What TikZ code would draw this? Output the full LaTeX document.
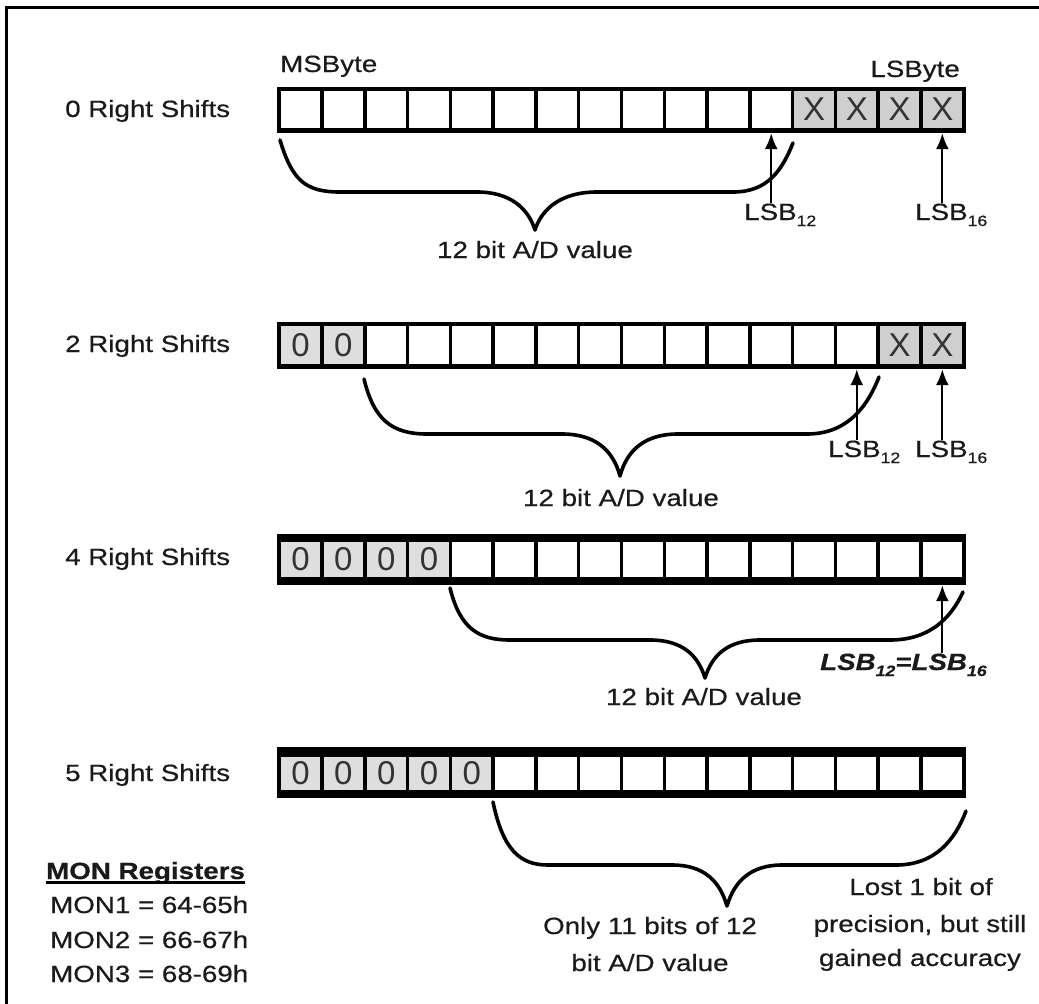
\documentclass[tikz,border=0pt]{standalone}
\usepackage{fontspec}
\setmainfont{Liberation Sans}[FakeStretch=1.18,FakeBold=0.5]
\newfontfamily\cellfont{Liberation Sans}
\usetikzlibrary{arrows.meta}
\definecolor{xgray}{HTML}{CFCFCF}
\definecolor{zgray}{HTML}{DEDEDE}
\definecolor{glyph}{HTML}{333333}
\definecolor{ink}{HTML}{1A1A1A}
\newcommand{\lsbsub}[1]{\raisebox{-6pt}{\fontsize{15}{15}\selectfont #1}}
% #1 name, #2 centre y, #3 height, #4 inner centre y, #5 inner height, #6 cells
\newcommand{\regrow}[6]{%
  \node[regframe, minimum height=#3pt] (#1) at (621.5,#2) {};
  \foreach \st/\tx [count=\i from 0] in {#6}{
    \node[cbase, fill=\st, minimum height=#5pt] (#1c\i) at ({281+\i*42.78+19.64},#4) {\tx};
  }
}
\begin{document}
\begin{tikzpicture}[x=1pt,y=-1pt,
  txt/.style={font=\fontsize{23.5}{28}\selectfont, inner sep=0pt, text=ink},
  regframe/.style={fill=black, draw=none, inner sep=0pt, minimum width=689pt},
  cbase/.style={inner sep=0pt, draw=none, minimum width=39.28pt, font=\cellfont\fontsize{33}{33}\selectfont, text=glyph},
  arr/.style={line width=2.2pt, -{Latex[length=16pt,width=13pt]}},
  bracepath/.style={line width=3.6pt, line join=round, line cap=round}
]
\useasboundingbox (0,0) rectangle (1039,1004);
\fill[white] (0,0) rectangle (1039,1004);
\draw[line width=3pt] (6,1006) -- (6,7) -- (1041,7);

% registers
\regrow{r0}{110}{46}{109.5}{37}{white/{},white/{},white/{},white/{},white/{},white/{},white/{},white/{},white/{},white/{},white/{},white/{},xgray/X,xgray/X,xgray/X,xgray/X}
\regrow{r2}{345.5}{47}{345}{38}{zgray/0,zgray/0,white/{},white/{},white/{},white/{},white/{},white/{},white/{},white/{},white/{},white/{},white/{},white/{},xgray/X,xgray/X}
\regrow{r4}{559.5}{51}{559.5}{35}{zgray/0,zgray/0,zgray/0,zgray/0,white/{},white/{},white/{},white/{},white/{},white/{},white/{},white/{},white/{},white/{},white/{},white/{}}
\regrow{r5}{772.5}{51}{773.5}{33}{zgray/0,zgray/0,zgray/0,zgray/0,zgray/0,white/{},white/{},white/{},white/{},white/{},white/{},white/{},white/{},white/{},white/{},white/{}}

% row labels
\node[txt, anchor=base west] (lab0) at (65,117) {0 Right Shifts};
\node[txt, anchor=base west] (lab2) at (65,352) {2 Right Shifts};
\node[txt, anchor=base west] (lab4) at (65,565) {4 Right Shifts};
\node[txt, anchor=base west] (lab5) at (65,781) {5 Right Shifts};

\node[txt, anchor=base west] (msb) at (280,72) {MSByte};
\node[txt, anchor=base east] (lsbyte) at (960,77) {LSByte};

% braces
\draw[bracepath] (280,140) .. controls (292,180) and (305,192) .. (340,192) -- (477,192)
  .. controls (510,192) and (528,208) .. (535,230)
  .. controls (542,208) and (562,192) .. (597,192) -- (733,192)
  .. controls (768,192) and (782,170) .. (793,143);
\draw[bracepath] (364,379) .. controls (374,420) and (392,434) .. (427,434) -- (562,434)
  .. controls (595,434) and (613,450) .. (620,476)
  .. controls (627,450) and (645,434) .. (678,434) -- (807,434)
  .. controls (845,434) and (866,410) .. (879,377);
\draw[bracepath] (450,588) .. controls (460,628) and (478,640) .. (510,640) -- (650,640)
  .. controls (682,640) and (698,655) .. (705,678)
  .. controls (712,655) and (728,640) .. (760,640) -- (890,640)
  .. controls (928,640) and (950,620) .. (963,592);
\draw[bracepath] (493,802) .. controls (503,850) and (520,865) .. (548,865) -- (672,865)
  .. controls (705,865) and (720,882) .. (727,906)
  .. controls (734,882) and (750,865) .. (782,865) -- (896,865)
  .. controls (935,865) and (955,840) .. (966,811);

\node[txt, anchor=base] (ad0) at (535,258) {12 bit A/D value};
\node[txt, anchor=base] (ad2) at (621,506) {12 bit A/D value};
\node[txt, anchor=base] (ad4) at (704,705) {12 bit A/D value};

% LSB labels and arrows
\node[txt, anchor=base west] (l0a) at (744,220) {LSB\lsbsub{12}};
\node[txt, anchor=base west] (l0b) at (915,220) {LSB\lsbsub{16}};
\node[txt, anchor=base west] (l2a) at (828,457) {LSB\lsbsub{12}};
\node[txt, anchor=base west] (l2b) at (915,457) {LSB\lsbsub{16}};
\node[txt, anchor=base west] (l4) at (820,670) {\bfseries\itshape LSB\lsbsub{12}=LSB\lsbsub{16}};

\draw[arr] (l0a.north -| r0c11) -- (r0c11 |- r0.south);
\draw[arr] (l0b.north -| r0c15) -- (r0c15 |- r0.south);
\draw[arr] (l2a.north -| r2c13) -- (r2c13 |- r2.south);
\draw[arr] (l2b.north -| r2c15) -- (r2c15 |- r2.south);
\draw[arr] (l4.north -| r4c15) -- (r4c15 |- r4.south);

% row 5 notes
\node[txt, anchor=base] (only1) at (650,934) {Only 11 bits of 12};
\node[txt, anchor=base] (only2) at (650,971) {bit A/D value};
\node[txt, anchor=base] (lost1) at (921,895) {Lost 1 bit of};
\node[txt, anchor=base] (lost2) at (920,932) {precision, but still};
\node[txt, anchor=base] (lost3) at (920,966) {gained accuracy};

% MON registers
\node[txt, anchor=base west] (mon) at (46,879) {\bfseries MON Registers};
\draw[line width=3.5pt] ([yshift=-3.5pt]mon.base west) -- ([yshift=-3.5pt]mon.base east);
\node[txt, anchor=base west] (mon1) at (50,913) {MON1 = 64-65h};
\node[txt, anchor=base west] (mon2) at (50,948) {MON2 = 66-67h};
\node[txt, anchor=base west] (mon3) at (50,982) {MON3 = 68-69h};
\end{tikzpicture}
\end{document}
